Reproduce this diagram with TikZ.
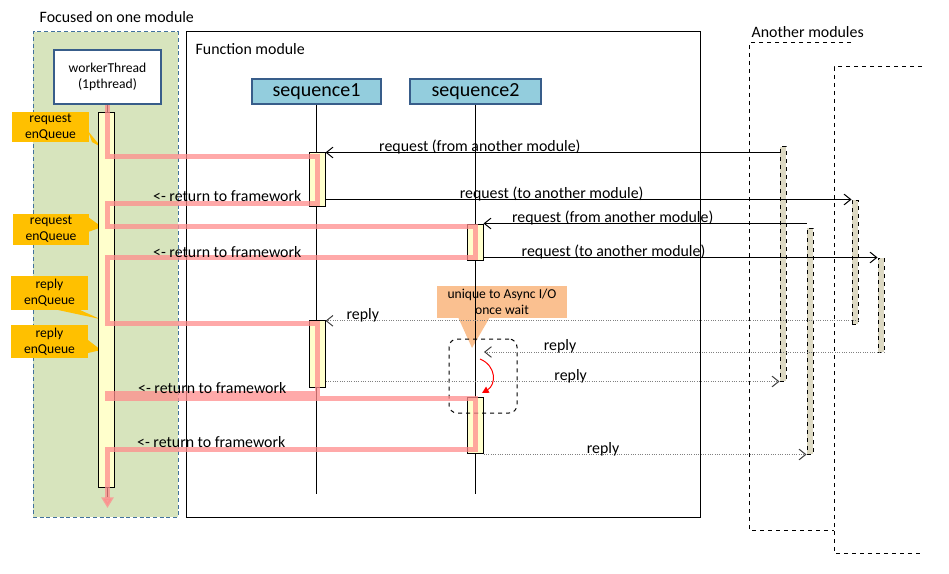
\documentclass[tikz,border=0pt]{standalone}
\usepackage{fontspec}
\setmainfont{Carlito}
\usepackage{tikz}
\usetikzlibrary{arrows.meta, positioning, fit, calc}
\definecolor{hdrblue}{RGB}{56,93,138}
\definecolor{seqblue}{RGB}{147,205,221}
\definecolor{greenbg}{RGB}{215,228,189}
\definecolor{greenedge}{RGB}{65,113,156}
\definecolor{actyellow}{RGB}{255,255,204}
\definecolor{exttan}{RGB}{221,217,195}
\definecolor{calloutgold}{RGB}{255,192,0}
\definecolor{asyncorange}{RGB}{250,192,144}
\definecolor{runpink}{RGB}{255,140,140}

\begin{document}
\begin{tikzpicture}[x=0.75pt, y=-0.75pt,
    lbl/.style={font=\fontsize{11.9}{14}\selectfont, text=black},
    small/.style={font=\fontsize{10.2}{12}\selectfont, align=center, text=black},
    seqtxt/.style={font=\fontsize{15}{18}\selectfont, text=black},
    hdr/.style={draw=hdrblue, line width=2pt, fill=white, inner sep=0pt},
    seqbox/.style={hdr, fill=seqblue},
    act/.style={draw, fill=actyellow, line width=0.75pt, inner sep=0pt},
    ext/.style={draw, dashed, fill=exttan, line width=0.75pt, inner sep=0pt},
    callout/.style={fill=calloutgold, inner sep=0pt},
    req/.style={line width=0.75pt, -{Straight Barb[length=5pt, width=8pt]}},
    rep/.style={gray, densely dotted, line width=0.75pt, -{Straight Barb[length=5pt, width=8pt, color=black!75]}},
    run/.style={runpink, line width=3.75pt, opacity=0.75, -{Triangle[length=8pt, width=9pt]}},
    modframe/.style={dashed, line width=0.75pt},
    msglbl/.style={lbl, above, inner sep=0pt, yshift=-1.5pt}]
  \useasboundingbox (0,0) rectangle (949,574);

  \node[lbl, anchor=west] (focus) at (35,17) {Focused on one module};
  \node[fit={(33,32) (178,517)}, inner sep=0pt, fill=greenbg, draw=greenedge, densely dashed, line width=0.75pt] (green) {};
  \node[fit={(186,32) (700,517)}, inner sep=0pt, draw, line width=0.75pt] (fm) {};
  \node[lbl, anchor=west] (fmname) at (191,49) {Function module};

  \node[lbl, anchor=west] (others) at (747,32) {Another modules};
  \draw[modframe] (851,43) -- (749,43) -- (749,530) -- (834,530);
  \draw[modframe] (922,67) -- (834,67) -- (834,553) -- (922,553);

  \fill[calloutgold] (88,131) -- (101,147) -- (92,142) -- cycle;
  \node[callout, fit={(12,112) (89,142)}, label={[small]center:request\\enQueue}] (rq1) {};
  \fill[calloutgold] (88,217) -- (102,227) -- (88,232) -- cycle;
  \node[callout, fit={(13,214) (89,245)}, label={[small]center:request\\enQueue}] (rq2) {};
  \fill[calloutgold] (58,310) -- (100,319) -- (80,310) -- cycle;
  \node[callout, fit={(11,276) (88,310)}, label={[small]center:reply\\enQueue}] (rp1) {};
  \fill[calloutgold] (88,340) -- (101,350) -- (88,353) -- cycle;
  \node[callout, fit={(11,325) (88,358)}, label={[small]center:reply\\enQueue}] (rp2) {};
  \fill[asyncorange] (458,317) -- (472,348) -- (490,317) -- cycle;
  \node[fill=asyncorange, inner sep=0pt, fit={(437,286) (567,318)}, label={[small]center:unique to Async I/O\\once wait}] (async) {};

  \node[hdr, fit={(54,50) (161,104)}, label={[small]center:workerThread\\(1pthread)}] (wt) {};
  \node[seqbox, fit={(252,79) (381,104)}, label={[seqtxt]center:sequence1}] (s1) {};
  \node[seqbox, fit={(410,79) (541,104)}, label={[seqtxt]center:sequence2}] (s2) {};

  \coordinate (wtend) at (107.5,508);
  \coordinate (s1end) at (316.5,494);
  \coordinate (s2end) at (475.5,494);
  \draw[line width=0.75pt] (wt.south) -- ([yshift=8pt]wtend);
  \draw[line width=0.75pt] (s1.south) -- (s1end);
  \draw[line width=0.75pt] (s2.south) -- (s2end);

  \node[act, fit={(98,113) (114,487)}] (wtbar) {};
  \node[act, fit={(309,153) (325,206)}] (a1) {};
  \node[act, fit={(467,224) (483,260)}] (a2) {};
  \node[act, fit={(309,320) (325,387)}] (a3) {};
  \node[act, fit={(467,397) (483,453)}] (a4) {};

  \node[ext, fit={(780,147) (786,381)}] (xa) {};
  \node[ext, fit={(807,228) (813,454)}] (xb) {};
  \node[ext, fit={(852,200) (858,324)}] (xc) {};
  \node[ext, fit={(878,258) (884,352)}] (xd) {};

  \node[fit={(449,339) (517,413)}, inner sep=0pt, draw, dashed, rounded corners=6pt, line width=0.75pt] (wb) {};

  \draw[req] (a1.north east -| xa.west) -- node[msglbl, pos=0.66] (m1) {request (from another module)} (a1.north east);
  \draw[req] (xc.north west -| a1.east) -- node[msglbl, pos=0.43] (m2) {request (to another module)} (xc.north west);
  \draw[req] (a2.north east -| xb.west) -- node[msglbl, pos=0.6] (m3) {request (from another module)} (a2.north east);
  \draw[req] (xd.north west -| a2.east) -- node[msglbl, pos=0.33] (m4) {request (to another module)} (xd.north west);

  \coordinate (w2) at (484,352);
  \draw[rep] ([yshift=-1pt]a3.north east -| xc.east) -- node[msglbl, pos=0.93] (r1) {reply} ([yshift=-1pt]a3.north east);
  \draw[rep] (w2 -| xd.east) -- node[msglbl, pos=0.81] (r2) {reply} (w2);
  \draw[rep] (xa.south west -| a3.east) -- node[msglbl, pos=0.54] (r3) {reply} (xa.south west);
  \draw[rep] (xb.south west -| a4.east) -- node[msglbl, pos=0.37] (r4) {reply} (xb.south west);

  \coordinate (wk1) at (480,359);
  \coordinate (wk2) at (482,393);
  \draw[red, line width=0.75pt, -{Triangle[length=5pt, width=5pt]}] (wk1) .. controls (497,366) and (496,385) .. (wk2);

  \draw[run] (wt.south) |- ([yshift=-3pt]a1.north)
    -- ([yshift=2.25pt]a1.south)
    -| ([yshift=-2.25pt]a2.north -| wt.south)
    -- ([yshift=-2.25pt]a2.north)
    -- ([yshift=2.25pt]a2.south)
    -| ([yshift=-3pt]a3.north -| wt.south)
    -- ([yshift=-3pt]a3.north)
    -- ([yshift=-4.5pt]a3.south)
    -| ([yshift=-1.5pt]a4.north -| wt.south)
    -- ([yshift=-1.5pt]a4.north)
    -- ([yshift=3pt]a4.south)
    -| (wtend);

  \node[lbl, anchor=east] (ret1) at (306,196) {<- return to framework};
  \node[lbl, anchor=east] (ret2) at (306,252) {<- return to framework};
  \node[lbl, anchor=east] (ret3) at (291,388) {<- return to framework};
  \node[lbl, anchor=east] (ret4) at (290,442) {<- return to framework};
\end{tikzpicture}
\end{document}
